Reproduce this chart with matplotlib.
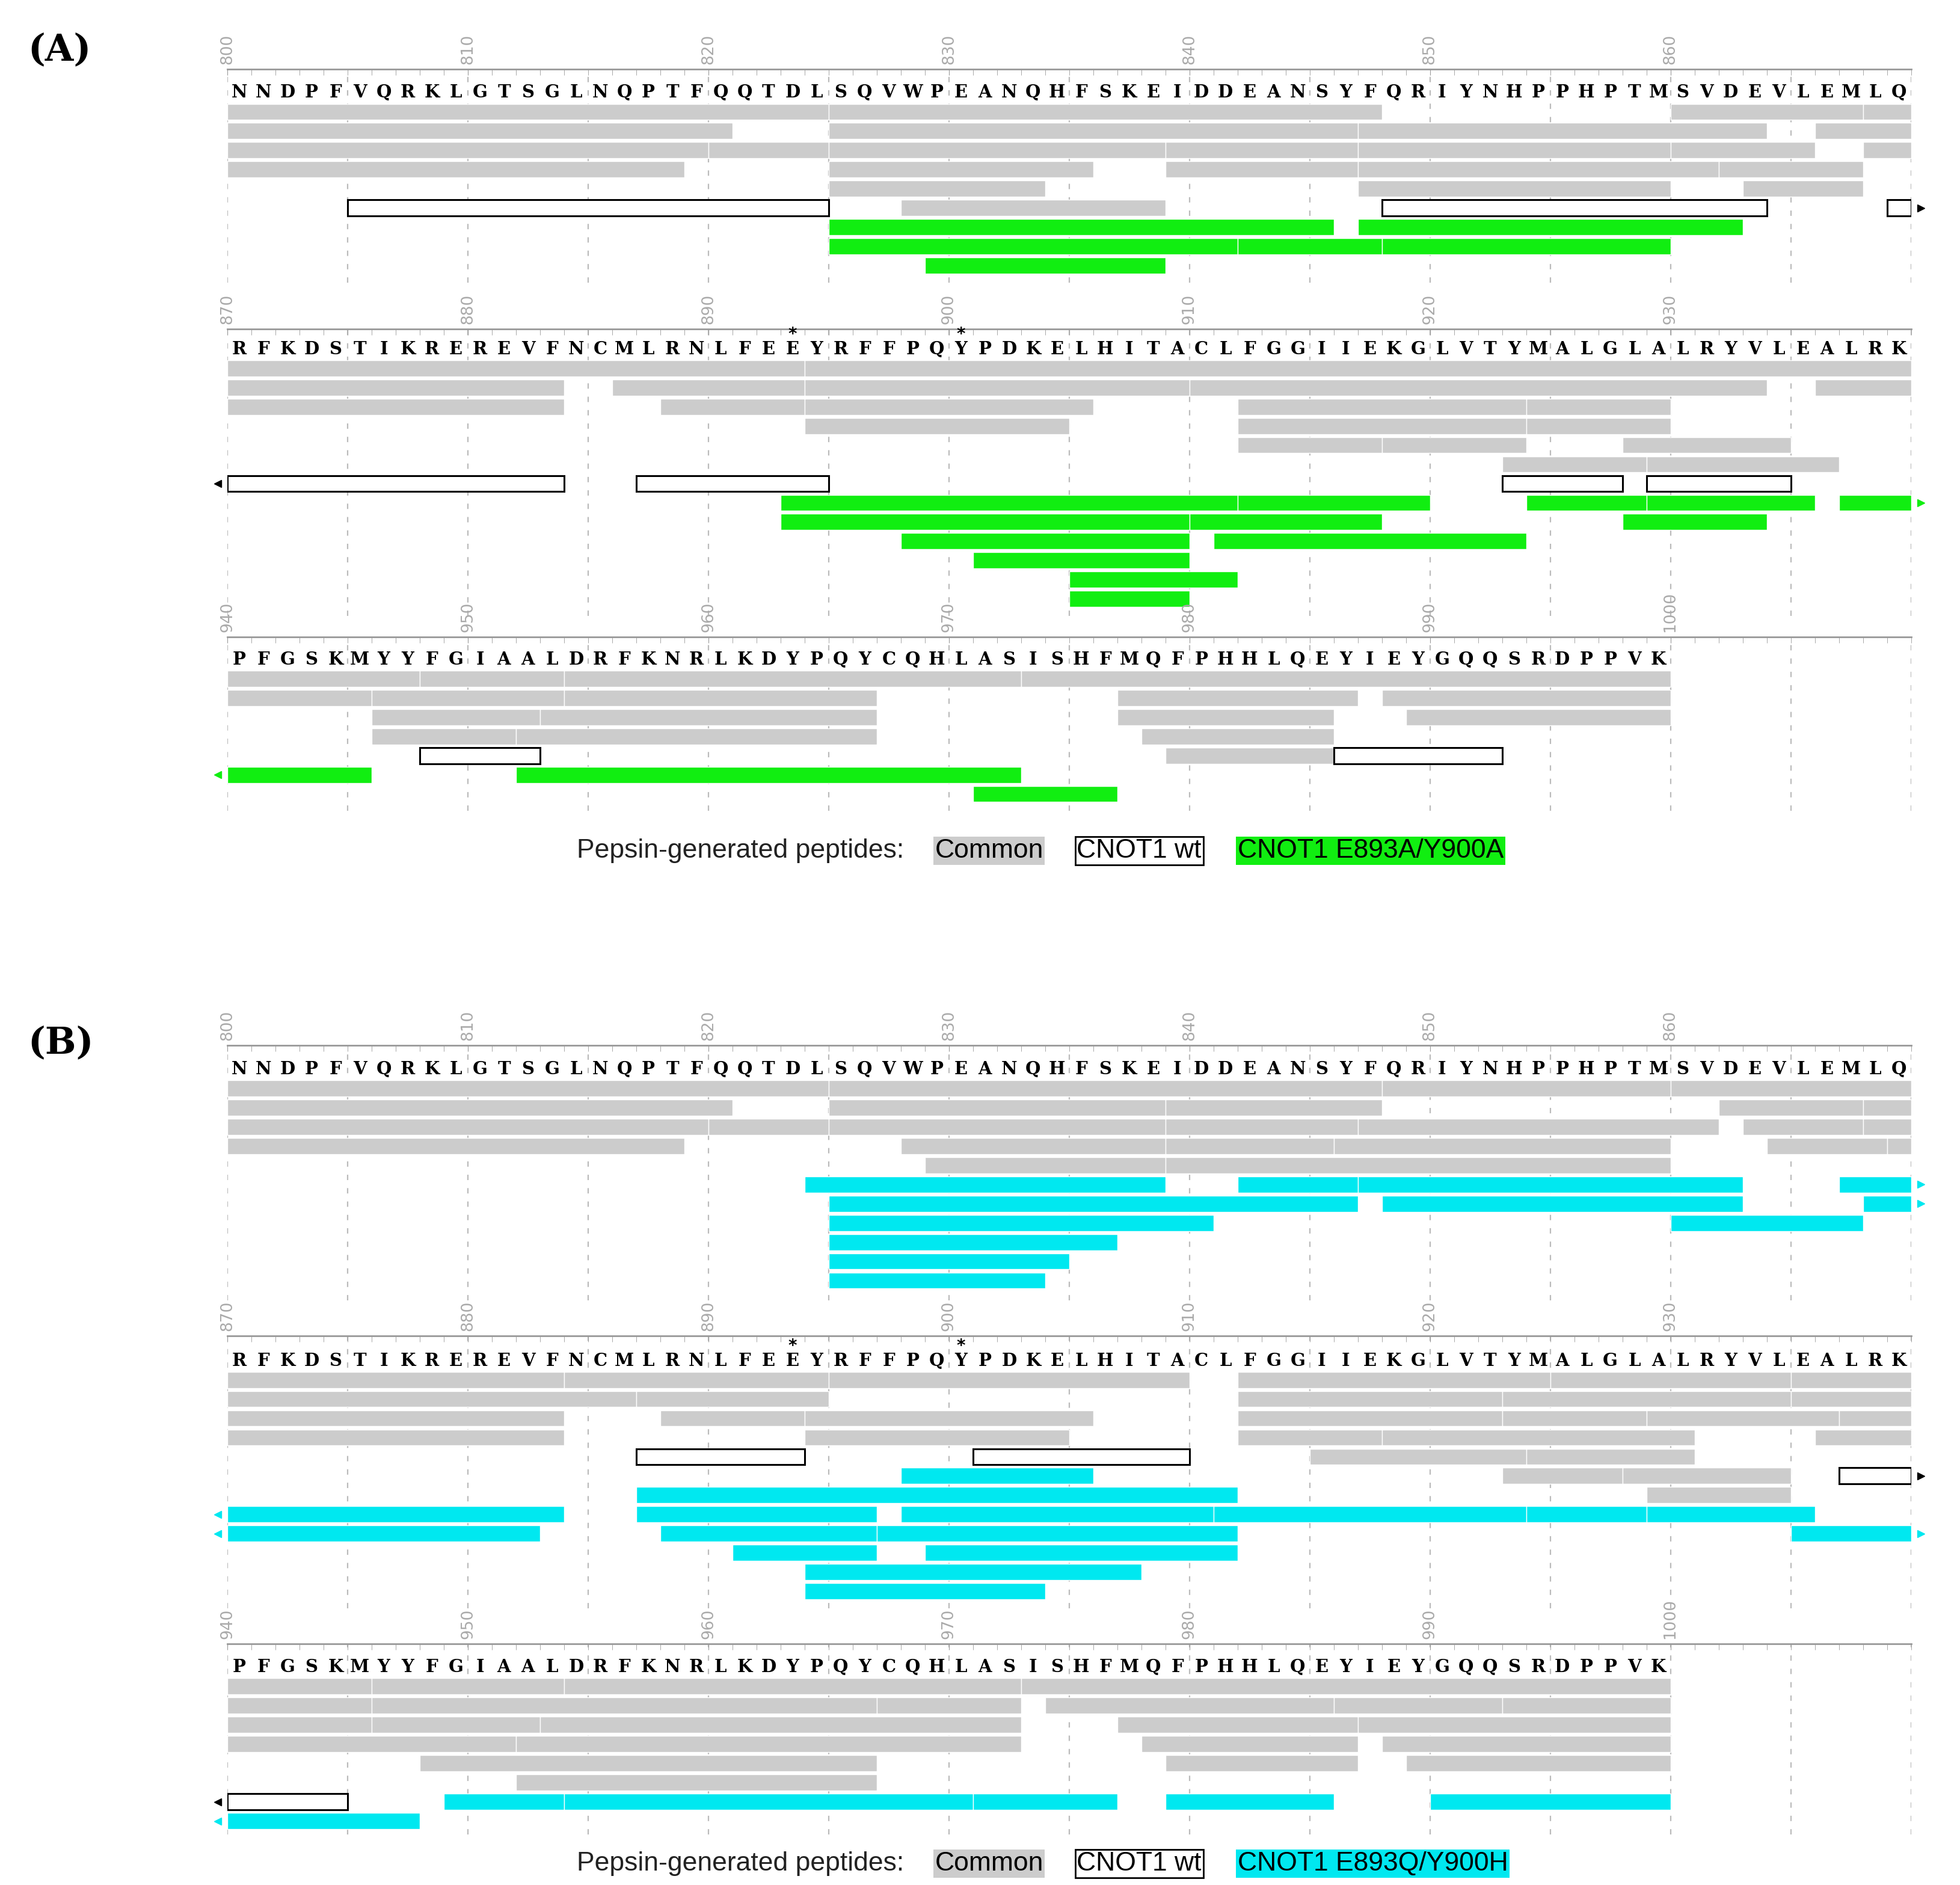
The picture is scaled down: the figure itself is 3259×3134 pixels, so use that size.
import matplotlib.pyplot as plt
from matplotlib.patches import Rectangle

# sequences per row (residue numbering starts at 800, 870, 940)
seq1 = "NNDPFVQRKLGTSGLNQPTFQQTDLSQVWPEANQHFSKEIDDEANSYFQRIYNHPPHPTMSVDEVLEMLQ"
seq2 = "RFKDSTIKREREVFNCMLRNLFEEYRFFPQYPDKELHITACLFGGIIEKGLVTYMALGLALRYVLEALRK"
seq3 = "PFGSKMYYFGIAALDRFKNRLKDYPQYCQHLASISHFMQFPHHLQEYIEYGQQSRDPPVK"
row_starts = [800, 870, 940]
star_residues = [893, 900]

# peptides: (start, end_exclusive, lane, arrow)
A1_common = [(800, 825, 0, ''), (825, 848, 0, ''), (860, 868, 0, ''), (868, 870, 0, ''),
             (800, 821, 1, ''), (825, 847, 1, ''), (847, 864, 1, ''), (866, 870, 1, ''),
             (800, 820, 2, ''), (820, 825, 2, ''), (825, 839, 2, ''), (839, 847, 2, ''),
             (847, 860, 2, ''), (860, 866, 2, ''), (868, 870, 2, ''),
             (800, 819, 3, ''), (825, 836, 3, ''), (839, 847, 3, ''), (847, 862, 3, ''), (862, 868, 3, ''),
             (825, 834, 4, ''), (847, 860, 4, ''), (863, 868, 4, ''),
             (828, 839, 5, '')]
A1_wt = [(805, 825, 5, ''), (848, 864, 5, ''), (869, 870, 5, 'r')]
A1_mut = [(825, 846, 6, ''), (847, 863, 6, ''),
          (825, 842, 7, ''), (842, 848, 7, ''), (848, 860, 7, ''),
          (829, 839, 8, '')]

A2_common = [(870, 894, 0, ''), (894, 940, 0, ''),
             (870, 884, 1, ''), (886, 894, 1, ''), (894, 910, 1, ''), (910, 934, 1, ''), (936, 940, 1, ''),
             (870, 884, 2, ''), (888, 894, 2, ''), (894, 906, 2, ''), (912, 924, 2, ''), (924, 930, 2, ''),
             (894, 905, 3, ''), (912, 924, 3, ''), (924, 930, 3, ''),
             (912, 918, 4, ''), (918, 924, 4, ''), (928, 935, 4, ''),
             (923, 929, 5, ''), (929, 937, 5, '')]
A2_wt = [(870, 884, 6, 'l'), (887, 895, 6, ''), (923, 928, 6, ''), (929, 935, 6, '')]
A2_mut = [(893, 912, 7, ''), (912, 920, 7, ''), (924, 929, 7, ''), (929, 936, 7, ''), (937, 940, 7, 'r'),
          (893, 910, 8, ''), (910, 918, 8, ''), (928, 934, 8, ''),
          (898, 910, 9, ''), (911, 924, 9, ''),
          (901, 910, 10, ''), (905, 912, 11, ''), (905, 910, 12, '')]

A3_common = [(940, 948, 0, ''), (948, 954, 0, ''), (954, 973, 0, ''), (973, 1000, 0, ''),
             (940, 946, 1, ''), (946, 954, 1, ''), (954, 967, 1, ''), (977, 987, 1, ''), (988, 1000, 1, ''),
             (946, 953, 2, ''), (953, 967, 2, ''), (977, 986, 2, ''), (989, 1000, 2, ''),
             (946, 952, 3, ''), (952, 967, 3, ''), (978, 986, 3, ''),
             (979, 986, 4, '')]
A3_wt = [(948, 953, 4, ''), (986, 993, 4, '')]
A3_mut = [(940, 946, 5, 'l'), (952, 973, 5, ''), (971, 977, 6, '')]

B1_common = [(800, 825, 0, ''), (825, 848, 0, ''), (848, 860, 0, ''), (860, 870, 0, ''),
             (800, 821, 1, ''), (825, 839, 1, ''), (839, 848, 1, ''), (862, 868, 1, ''), (868, 870, 1, ''),
             (800, 820, 2, ''), (820, 825, 2, ''), (825, 839, 2, ''), (839, 847, 2, ''),
             (847, 862, 2, ''), (863, 868, 2, ''), (868, 870, 2, ''),
             (800, 819, 3, ''), (828, 839, 3, ''), (839, 846, 3, ''), (846, 860, 3, ''), (864, 869, 3, ''), (869, 870, 3, ''),
             (829, 839, 4, ''), (839, 860, 4, '')]
B1_wt = []
B1_mut = [(824, 839, 5, ''), (842, 847, 5, ''), (847, 863, 5, ''), (867, 870, 5, 'r'),
          (825, 847, 6, ''), (848, 863, 6, ''), (868, 870, 6, 'r'),
          (825, 841, 7, ''), (860, 868, 7, ''),
          (825, 837, 8, ''), (825, 835, 9, ''), (825, 834, 10, '')]

B2_common = [(870, 884, 0, ''), (884, 895, 0, ''), (895, 910, 0, ''), (912, 925, 0, ''), (925, 935, 0, ''), (935, 940, 0, ''),
             (870, 887, 1, ''), (887, 895, 1, ''), (912, 923, 1, ''), (923, 935, 1, ''), (935, 940, 1, ''),
             (870, 884, 2, ''), (888, 894, 2, ''), (894, 906, 2, ''), (912, 923, 2, ''), (923, 929, 2, ''),
             (929, 937, 2, ''), (937, 940, 2, ''),
             (870, 884, 3, ''), (894, 905, 3, ''), (912, 918, 3, ''), (918, 931, 3, ''), (936, 940, 3, ''),
             (915, 924, 4, ''), (924, 931, 4, ''),
             (923, 928, 5, ''), (928, 935, 5, ''),
             (929, 935, 6, '')]
B2_wt = [(887, 894, 4, ''), (901, 910, 4, ''), (937, 940, 5, 'r')]
B2_mut = [(898, 906, 5, ''),
          (887, 912, 6, ''),
          (870, 884, 7, 'l'), (887, 897, 7, ''), (898, 911, 7, ''), (911, 924, 7, ''), (924, 929, 7, ''), (929, 936, 7, ''),
          (870, 883, 8, 'l'), (888, 897, 8, ''), (897, 912, 8, ''), (935, 940, 8, 'r'),
          (891, 897, 9, ''), (899, 912, 9, ''),
          (894, 908, 10, ''), (894, 904, 11, '')]

B3_common = [(940, 946, 0, ''), (946, 954, 0, ''), (954, 973, 0, ''), (973, 1000, 0, ''),
             (940, 946, 1, ''), (946, 967, 1, ''), (967, 973, 1, ''), (974, 986, 1, ''), (986, 993, 1, ''), (993, 1000, 1, ''),
             (940, 946, 2, ''), (946, 953, 2, ''), (953, 973, 2, ''), (977, 987, 2, ''), (987, 1000, 2, ''),
             (940, 952, 3, ''), (952, 973, 3, ''), (978, 987, 3, ''), (988, 1000, 3, ''),
             (948, 967, 4, ''), (979, 987, 4, ''), (989, 1000, 4, ''),
             (952, 967, 5, '')]
B3_wt = [(940, 945, 6, 'l')]
B3_mut = [(949, 954, 6, ''), (954, 971, 6, ''), (971, 977, 6, ''), (979, 986, 6, ''), (990, 1000, 6, ''),
          (940, 948, 7, 'l')]

GRAY = '#cccccc'
GREEN = '#11ee11'
CYAN = '#00e8f0'

W, H = 1560.0, 1500.0   # layout units (reference pixels / 2.09)
LANE = 15.3

fig = plt.figure(figsize=(32.59, 31.34), dpi=100)


def make_row(top, bottom, lane0, start, seq, common, wt, mut, mutcol):
    ax = fig.add_axes([181 / W, 1 - bottom / H, 1340 / W, (bottom - top) / H])
    ax.set_xlim(start, start + 70)
    ax.set_ylim((bottom - lane0) / LANE, (top - lane0) / LANE)
    for s in ['left', 'right', 'bottom']:
        ax.spines[s].set_visible(False)
    ax.spines['top'].set_color('#999999')
    ax.spines['top'].set_linewidth(2)
    ax.xaxis.tick_top()
    ax.set_xticks(range(start, start + 70, 10))
    ax.set_xticklabels([str(v) for v in range(start, start + 70, 10)], rotation=90,
                       color='#aaaaaa', fontsize=19)
    ax.set_xticks(range(start, start + 71), minor=True)
    ax.tick_params(axis='x', which='both', direction='in', color='#999999', length=7, pad=6)
    ax.set_yticks([])
    for v in range(start, start + 71, 5):
        ax.axvline(v, color='#bbbbbb', ls=(0, (4, 6)), lw=1.6, zorder=0)
    for i, ch in enumerate(seq):
        ax.text(start + i + 0.5, -1, ch, ha='center', va='center', fontsize=21,
                fontweight='bold', family='DejaVu Serif')
        if start + i in star_residues:
            ax.text(start + i + 0.5, -1.75, '*', ha='center', va='center', fontsize=20,
                    fontweight='bold')
    groups = [(common, GRAY, 'none'), (wt, 'white', 'black'), (mut, mutcol, 'none')]
    for peps, fc, ec in groups:
        for s, e, lane, arrow in peps:
            ax.add_patch(Rectangle((s, lane - 0.42), e - s, 0.84, facecolor=fc,
                                   edgecolor=ec if ec != 'none' else 'white',
                                   lw=2.2 if ec != 'none' else 1.0, zorder=2))
            if arrow:
                col = 'black' if fc == 'white' else fc
                x = s - 0.4 if arrow == 'l' else e + 0.4
                ax.plot(x, lane, marker='<' if arrow == 'l' else '>', color=col,
                        markersize=8, zorder=3, clip_on=False)
    return ax


def legend(y, mut_label, mutcol):
    fs = 32
    fig.text(459 / W, 1 - y / H, "Pepsin-generated peptides:", fontsize=fs, va='center',
             family='Liberation Sans', color='#222222')
    fig.text(744 / W, 1 - y / H, "Common", fontsize=fs, va='center', family='Liberation Sans',
             bbox=dict(facecolor=GRAY, edgecolor='none', pad=2))
    fig.text(857 / W, 1 - y / H, "CNOT1 wt", fontsize=fs, va='center', family='Liberation Sans',
             bbox=dict(facecolor='white', edgecolor='black', lw=2, pad=2))
    fig.text(985 / W, 1 - y / H, mut_label, fontsize=fs, va='center', family='Liberation Sans',
             bbox=dict(facecolor=mutcol, edgecolor='none', pad=2))


make_row(55, 225, 89, 800, seq1, A1_common, A1_wt, A1_mut, GREEN)
make_row(262, 490, 293, 870, seq2, A2_common, A2_wt, A2_mut, GREEN)
make_row(507, 645, 540, 940, seq3, A3_common, A3_wt, A3_mut, GREEN)
make_row(832, 1035, 866, 800, seq1, B1_common, B1_wt, B1_mut, CYAN)
make_row(1063, 1280, 1098, 870, seq2, B2_common, B2_wt, B2_mut, CYAN)
make_row(1308, 1460, 1342, 940, seq3, B3_common, B3_wt, B3_mut, CYAN)

legend(677, "CNOT1 E893A/Y900A", GREEN)
legend(1483, "CNOT1 E893Q/Y900H", CYAN)

for lab, y in [("A", 40), ("B", 830)]:
    fig.text(22 / W, 1 - y / H, "(" + lab + ")", fontsize=44, va='center',
             family='DejaVu Serif', fontweight='bold')

fig.savefig('out.png', dpi=100)
